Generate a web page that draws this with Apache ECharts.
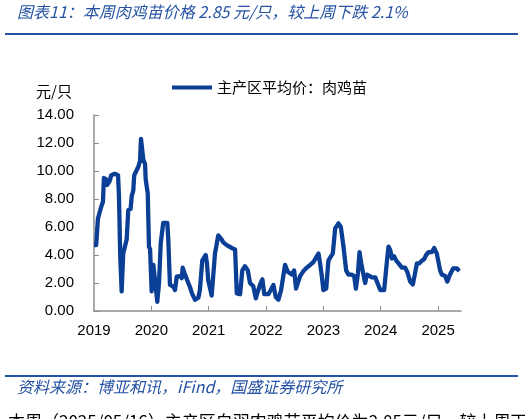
<!DOCTYPE html>
<html><head><meta charset="utf-8">
<script src="https://cdn.jsdelivr.net/npm/echarts@6/dist/echarts.min.js"></script>
<style>html,body{margin:0;padding:0;background:#fff}#c{width:525px;height:419px}</style>
</head><body><div id="c"></div>
<script>
const dates = ["2019-01-01","2019-01-15","2019-01-26","2019-02-16","2019-02-27","2019-03-05","2019-03-20","2019-03-26","2019-04-11","2019-04-21","2019-05-13","2019-06-03","2019-06-09","2019-06-17","2019-06-26","2019-07-06","2019-07-28","2019-08-07","2019-08-22","2019-08-29","2019-09-08","2019-09-14","2019-10-10","2019-10-21","2019-10-27","2019-11-04","2019-11-11","2019-11-22","2019-11-26","2019-12-09","2019-12-17","2019-12-24",
"2020-01-03","2020-01-14","2020-01-24","2020-01-31","2020-02-08","2020-02-19","2020-03-01","2020-03-17","2020-04-12","2020-04-18","2020-04-29","2020-05-20","2020-05-31","2020-06-11","2020-07-02","2020-07-13","2020-07-19","2020-08-03","2020-08-14","2020-08-24","2020-09-04","2020-09-15","2020-10-06","2020-10-27","2020-11-06","2020-11-21","2020-12-02","2020-12-13","2020-12-21","2020-12-29",
"2021-01-20","2021-02-10","2021-03-03","2021-03-25","2021-04-04","2021-04-26","2021-05-28","2021-06-18","2021-06-29","2021-07-20","2021-08-03","2021-08-20","2021-09-07","2021-09-21","2021-10-12","2021-10-28","2021-11-13","2021-11-28","2021-12-09","2021-12-21",
"2022-01-16","2022-01-31","2022-02-17","2022-03-04","2022-03-21","2022-04-07","2022-05-02","2022-05-19","2022-06-14","2022-06-29","2022-07-11","2022-08-06","2022-08-27","2022-09-18","2022-10-09","2022-10-30","2022-11-20","2022-12-01","2022-12-11","2022-12-22",
"2023-01-01","2023-01-19","2023-02-02","2023-02-18","2023-03-02","2023-03-17","2023-04-07","2023-04-22","2023-05-09","2023-05-26","2023-06-10","2023-07-01","2023-07-16","2023-07-27","2023-08-09","2023-08-19","2023-08-30","2023-09-13","2023-09-24","2023-10-05","2023-10-22","2023-11-06","2023-11-27","2023-12-08","2023-12-29",
"2024-01-23","2024-02-10","2024-02-20","2024-03-02","2024-03-13","2024-03-27","2024-04-09","2024-04-24","2024-05-15","2024-06-05","2024-06-20","2024-07-07","2024-07-24","2024-08-02","2024-08-19","2024-09-04","2024-09-20","2024-10-04","2024-10-17","2024-11-01","2024-11-22","2024-12-07","2024-12-24",
"2025-01-14","2025-01-25","2025-02-15","2025-03-01","2025-03-18","2025-04-08","2025-04-30","2025-05-09","2025-05-16"];
const prices = [4.7,4.7,6.6,7.45,7.8,9.5,9.4,9.0,9.3,9.7,9.8,9.7,8.2,3.9,1.4,4.1,5.1,7.2,7.3,8.2,8.6,9.7,10.3,10.7,12.3,12.2,10.8,10.5,9.4,8.4,4.6,4.4,
1.4,3.3,3.2,1.5,0.66,2.0,4.85,6.3,6.3,5.1,1.86,1.74,1.5,2.45,2.5,2.35,3.1,2.6,2.6,2.0,1.7,1.3,0.8,0.95,1.5,3.6,3.6,4.0,3.4,2.2,
1.1,4.1,5.4,5.1,4.9,4.7,4.5,4.4,1.26,1.2,2.9,3.2,2.9,2.0,1.76,0.9,1.5,2.0,2.26,1.2,
1.2,1.5,1.86,1.0,0.8,1.5,3.3,2.8,2.6,2.9,1.6,2.5,2.85,3.1,3.3,3.5,3.9,4.1,3.4,2.5,
1.5,1.6,3.6,3.9,4.1,5.9,6.26,6.0,4.6,2.9,2.6,2.6,2.5,1.6,2.7,4.2,3.4,2.6,2.0,2.6,2.5,2.4,2.4,2.3,1.5,
1.5,3.6,4.6,4.35,3.75,3.9,3.6,3.4,3.1,3.1,2.75,2.1,1.9,2.4,3.4,3.4,3.6,3.7,4.0,4.2,4.2,4.5,4.1,
2.9,2.6,2.5,2.1,2.6,3.05,3.05,2.91,2.85];
const yearTicks = [2019,2020,2021,2022,2023,2024,2025];
const seriesName = "主产区平均价：肉鸡苗";
const titleText = "图表11：本周肉鸡苗价格 2.85 元/只，较上周下跌 2.1%";
const sourceText = "资料来源：博亚和讯，iFind，国盛证券研究所";
const unitText = "元/只";
const footText = "本周（2025/05/16）主产区白羽肉鸡苗平均价为2.85元/只，较上周下跌2.1%，";

function toYear(s){
  const [y,m,d]=s.split('-').map(Number);
  const t0=Date.UTC(y,0,1), t1=Date.UTC(y+1,0,1);
  return y+(Date.UTC(y,m-1,d)-t0)/(t1-t0);
}
const data = dates.map((d,i)=>[toYear(d),prices[i]]);
const blue = '#0b3f96';
const chart = echarts.init(document.getElementById('c'));
chart.setOption({
  animation:false,
  textStyle:{fontFamily:'"Liberation Sans","Noto Sans CJK SC",sans-serif'},
  grid:{left:94,right:64,top:115,bottom:108,containLabel:false},
  legend:{left:167,top:75,icon:'rect',itemWidth:40,itemHeight:4,itemGap:6,
    textStyle:{fontSize:15,color:'#000',fontFamily:'"Noto Sans CJK SC",sans-serif'},
    data:[{name:seriesName,itemStyle:{color:blue}}]},
  xAxis:{type:'value',min:2019,max:2025.4,
    axisLine:{lineStyle:{color:'#8c8c8c',width:1.5}},
    axisTick:{show:true,inside:true,length:5,lineStyle:{color:'#8c8c8c'},customValues:yearTicks.slice(1)},
    axisLabel:{customValues:yearTicks,fontSize:15,color:'#000',margin:12,formatter:v=>String(Math.round(v))},
    splitLine:{show:false}},
  yAxis:{type:'value',min:0,max:14,interval:2,
    axisLine:{show:true,lineStyle:{color:'#8c8c8c',width:1.5}},
    axisTick:{show:true,inside:true,length:5,lineStyle:{color:'#8c8c8c'}},
    axisLabel:{fontSize:15,color:'#000',margin:20,formatter:v=>v.toFixed(2)},
    splitLine:{show:false}},
  series:[{name:seriesName,type:'line',data:data,showSymbol:false,symbol:'none',
    lineStyle:{color:blue,width:4.3,join:'round'},itemStyle:{color:blue}}],
  graphic:[
    {type:'text',left:17,top:4,style:{text:titleText,fill:'#2552a3',font:'italic 16px "Noto Sans CJK SC", sans-serif'}},
    {type:'rect',shape:{x:5,y:33,width:513,height:2},style:{fill:'#2552a3'}},
    {type:'text',left:36,top:84,style:{text:unitText,fill:'#000',font:'15px "Noto Sans CJK SC", sans-serif'}},
    {type:'rect',shape:{x:5,y:375,width:513,height:2},style:{fill:'#2552a3'}},
    {type:'text',left:17,top:379,style:{text:sourceText,fill:'#2552a3',font:'italic 16px "Noto Sans CJK SC", sans-serif'}},
    {type:'text',left:8,top:413,style:{text:footText,fill:'#000',font:'17px "Noto Sans CJK SC", sans-serif'}}
  ]
});
</script></body></html>
